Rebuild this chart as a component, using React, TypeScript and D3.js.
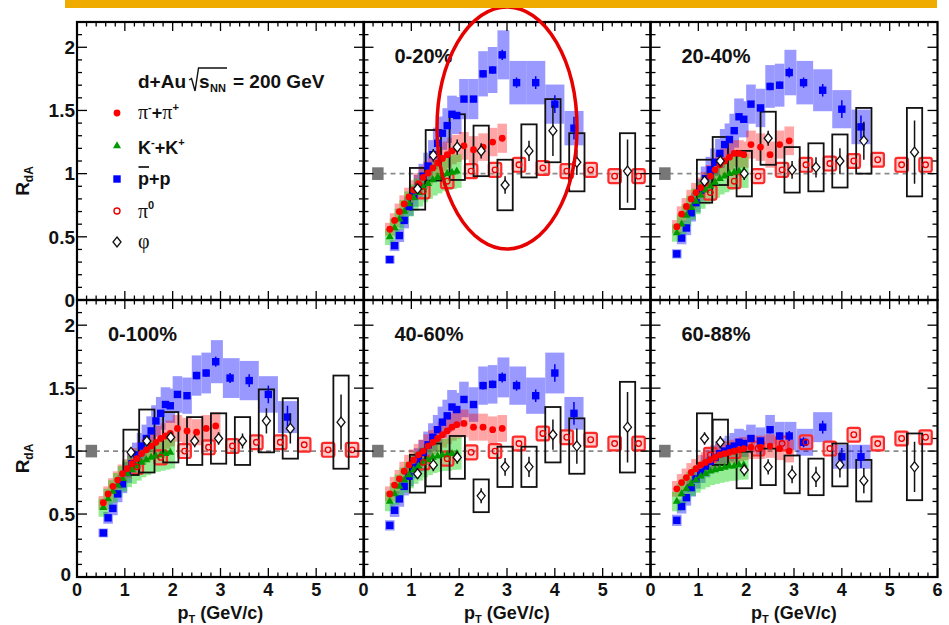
import React, { useEffect, useRef } from "react";
import * as d3 from "d3";

// pT bins (GeV/c)
const ptPion = [0.55, 0.65, 0.75, 0.85, 0.95, 1.05, 1.15, 1.25, 1.35, 1.45, 1.55, 1.65, 1.75, 1.85, 1.95, 2.1, 2.3, 2.5, 2.7, 2.9];
const ptKaon = [0.55, 0.65, 0.75, 0.85, 0.95, 1.05, 1.15, 1.25, 1.35, 1.45, 1.55, 1.65, 1.75, 1.85, 1.95];
const ptProton = [0.55, 0.65, 0.75, 0.85, 0.95, 1.05, 1.15, 1.25, 1.35, 1.45, 1.55, 1.65, 1.75, 1.85, 1.95, 2.1, 2.3, 2.5, 2.7, 2.9, 3.2, 3.6, 4.0, 4.4];
const ptPi0 = [1.25, 1.75, 2.25, 2.75, 3.25, 3.75, 4.25, 4.75, 5.25, 5.75];
const ptPhi = [1.13, 1.46, 1.96, 2.46, 2.96, 3.46, 3.96, 4.46, 5.52];

// pi- + pi+
const pion020 = [0.56, 0.63, 0.7, 0.76, 0.815, 0.87, 0.92, 0.97, 1.005, 1.045, 1.085, 1.12, 1.15, 1.18, 1.2, 1.22, 1.19, 1.21, 1.25, 1.28];
const pion2040 = [0.58, 0.68, 0.74, 0.8, 0.85, 0.89, 0.93, 0.98, 1.03, 1.07, 1.1, 1.13, 1.16, 1.16, 1.15, 1.23, 1.21, 1.15, 1.23, 1.26];
const pion0100 = [0.59, 0.66, 0.72, 0.77, 0.82, 0.86, 0.9, 0.94, 0.98, 1.01, 1.04, 1.07, 1.1, 1.12, 1.14, 1.18, 1.16, 1.15, 1.18, 1.2];
const pion4060 = [0.66, 0.73, 0.78, 0.84, 0.89, 0.93, 0.97, 1.0, 1.04, 1.07, 1.1, 1.13, 1.16, 1.19, 1.21, 1.22, 1.19, 1.19, 1.17, 1.18];
const pion6088 = [0.7, 0.75, 0.79, 0.83, 0.86, 0.89, 0.91, 0.93, 0.95, 0.97, 0.98, 0.99, 1.0, 1.01, 1.02, 1.03, 1.03, 1.04, 1.02, 1.0];

// K- + K+
const kaon020 = [0.5, 0.57, 0.64, 0.7, 0.76, 0.81, 0.85, 0.89, 0.92, 0.95, 0.97, 0.99, 1.0, 1.01, 1.02];
const kaon2040 = [0.53, 0.6, 0.67, 0.73, 0.78, 0.83, 0.87, 0.9, 0.93, 0.96, 0.98, 1.0, 1.01, 1.02, 1.02];
const kaon0100 = [0.55, 0.62, 0.68, 0.73, 0.78, 0.82, 0.85, 0.88, 0.91, 0.93, 0.95, 0.96, 0.97, 0.98, 0.99];
const kaon4060 = [0.6, 0.66, 0.72, 0.77, 0.81, 0.85, 0.88, 0.91, 0.93, 0.95, 0.96, 0.97, 0.97, 0.98, 0.98];
const kaon6088 = [0.6, 0.66, 0.7, 0.74, 0.77, 0.8, 0.82, 0.84, 0.85, 0.86, 0.87, 0.88, 0.88, 0.89, 0.89];

// pbar + p
const proton020 = [0.32, 0.43, 0.51, 0.63, 0.74, 0.82, 0.9, 0.98, 1.06, 1.15, 1.24, 1.32, 1.38, 1.47, 1.46, 1.59, 1.59, 1.79, 1.82, 1.94, 1.72, 1.72, 1.55, 1.36];
const proton2040 = [0.365, 0.49, 0.57, 0.69, 0.77, 0.87, 0.96, 1.03, 1.09, 1.16, 1.23, 1.27, 1.34, 1.45, 1.43, 1.55, 1.52, 1.69, 1.7, 1.8, 1.72, 1.66, 1.51, 1.37];
const proton0100 = [0.35, 0.47, 0.545, 0.66, 0.74, 0.83, 0.9, 0.97, 1.04, 1.1, 1.16, 1.24, 1.3, 1.37, 1.36, 1.45, 1.44, 1.6, 1.62, 1.71, 1.58, 1.56, 1.45, 1.27];
const proton4060 = [0.41, 0.53, 0.62, 0.72, 0.8, 0.87, 0.93, 0.99, 1.05, 1.11, 1.17, 1.23, 1.28, 1.35, 1.33, 1.41, 1.37, 1.52, 1.53, 1.585, 1.52, 1.44, 1.62, 1.3];
const proton6088 = [0.45, 0.56, 0.63, 0.71, 0.78, 0.83, 0.88, 0.92, 0.95, 0.98, 1.0, 1.02, 1.04, 1.07, 1.06, 1.1, 1.08, 1.17, 1.12, 1.12, 1.07, 1.19, 0.955, 0.955];
const protonStat = [0, 0, 0, 0, 0, 0, 0, 0, 0, 0, 0, 0, 0, 0, 0, 0.02, 0.02, 0.03, 0.03, 0.04, 0.04, 0.05, 0.07, 0.09];

// pi0
const pi0020 = [0.86, 0.94, 1.02, 1.03, 1.07, 1.045, 1.02, 1.03, 0.98, 0.98];
const pi02040 = [0.85, 0.94, 0.98, 1.03, 1.07, 1.08, 1.1, 1.11, 1.07, 1.07];
const pi00100 = [0.875, 0.95, 1.0, 1.03, 1.04, 1.07, 1.07, 1.05, 1.01, 1.01];
const pi04060 = [0.91, 0.94, 0.99, 1.0, 1.06, 1.14, 1.11, 1.09, 1.06, 1.06];
const pi06088 = [0.97, 1.0, 1.02, 1.06, 1.07, 1.02, 1.13, 1.06, 1.1, 1.11];

// phi: value, systematic half-height, statistical error
const phi020 = [0.88, 1.145, 1.21, 1.18, 0.91, 1.18, 1.34, 1.09, 1.02];
const phiSys020 = [0.165, 0.2, 0.26, 0.2, 0.2, 0.21, 0.25, 0.23, 0.3];
const phiStat020 = [0.04, 0.05, 0.06, 0.06, 0.07, 0.08, 0.2, 0.1, 0.25];
const phi2040 = [0.94, 1.1, 1.0, 1.28, 1.03, 1.05, 1.1, 1.26, 1.17];
const phiSys2040 = [0.17, 0.19, 0.18, 0.21, 0.18, 0.19, 0.21, 0.26, 0.35];
const phiStat2040 = [0.04, 0.05, 0.05, 0.06, 0.07, 0.08, 0.1, 0.15, 0.25];
const phi0100 = [0.99, 1.08, 1.11, 1.08, 1.1, 1.08, 1.24, 1.18, 1.23];
const phiSys0100 = [0.18, 0.25, 0.2, 0.19, 0.2, 0.19, 0.25, 0.24, 0.37];
const phiStat0100 = [0.03, 0.04, 0.04, 0.05, 0.05, 0.06, 0.1, 0.12, 0.22];
const phi4060 = [0.82, 0.89, 0.95, 0.645, 0.875, 0.875, 1.13, 1.04, 1.19];
const phiSys4060 = [0.15, 0.17, 0.17, 0.13, 0.16, 0.16, 0.22, 0.22, 0.36];
const phiStat4060 = [0.04, 0.05, 0.05, 0.06, 0.07, 0.08, 0.12, 0.14, 0.28];
const phi6088 = [1.1, 1.07, 0.85, 0.875, 0.815, 0.795, 0.89, 0.765, 0.875];
const phiSys6088 = [0.2, 0.18, 0.145, 0.145, 0.15, 0.145, 0.17, 0.165, 0.265];
const phiStat6088 = [0.05, 0.05, 0.05, 0.06, 0.07, 0.08, 0.1, 0.1, 0.2];

const centralityLabels = ["0-20%", "20-40%", "0-100%", "40-60%", "60-88%"];
const yTickLabels = [0, 0.5, 1, 1.5, 2];
const xTickLabels = [0, 1, 2, 3, 4, 5];

const W = 949;
const H = 625;
const font = "'Liberation Sans', Arial, Helvetica, sans-serif";
const serif = "'Liberation Serif', 'Times New Roman', serif";
const colX = [77, 363.5, 650.5];
const panelW = 287;
const rows = [
  { top: 22, bottom: 300 },
  { top: 300, bottom: 577 },
];

const panels = [
  { label: centralityLabels[0], col: 1, row: 0, pion: pion020, kaon: kaon020, proton: proton020, pi0: pi0020, phi: phi020, phiSys: phiSys020, phiStat: phiStat020 },
  { label: centralityLabels[1], col: 2, row: 0, pion: pion2040, kaon: kaon2040, proton: proton2040, pi0: pi02040, phi: phi2040, phiSys: phiSys2040, phiStat: phiStat2040 },
  { label: centralityLabels[2], col: 0, row: 1, pion: pion0100, kaon: kaon0100, proton: proton0100, pi0: pi00100, phi: phi0100, phiSys: phiSys0100, phiStat: phiStat0100 },
  { label: centralityLabels[3], col: 1, row: 1, pion: pion4060, kaon: kaon4060, proton: proton4060, pi0: pi04060, phi: phi4060, phiSys: phiSys4060, phiStat: phiStat4060 },
  { label: centralityLabels[4], col: 2, row: 1, pion: pion6088, kaon: kaon6088, proton: proton6088, pi0: pi06088, phi: phi6088, phiSys: phiSys6088, phiStat: phiStat6088 },
];

// half widths of a band box: half the distance to the neighbours, never less than minHalf
const halfW = (pts: number[], i: number, minHalf: number) => {
  const l = i > 0 ? (pts[i] - pts[i - 1]) / 2 : minHalf;
  const r = i < pts.length - 1 ? (pts[i + 1] - pts[i]) / 2 : l;
  return [Math.max(minHalf, l), Math.max(minHalf, r)];
};

const App = () => {
  const ref = useRef<SVGSVGElement>(null);

  useEffect(() => {
    const svg = d3.select(ref.current);
    svg.selectAll("*").remove();
    svg.append("rect").attr("width", W).attr("height", H).attr("fill", "#fff");
    const defs = svg.append("defs");

    const scales = (col: number, row: number) => {
      const x = d3.scaleLinear().domain([0, 6]).range([colX[col], colX[col] + panelW]);
      const y = d3.scaleLinear().domain([0, 2.2]).range([rows[row].bottom, rows[row].top]);
      return { x, y };
    };

    const band = (g: any, x: any, y: any, pts: number[], vals: number[], frac: number, minHalf: number, color: string, op: number) => {
      const bg = g.append("g").attr("opacity", op);
      pts.forEach((p, i) => {
        const [l, r] = halfW(pts, i, minHalf);
        const s = vals[i] * frac;
        bg.append("rect")
          .attr("x", x(p - l))
          .attr("width", x(p + r) - x(p - l))
          .attr("y", y(vals[i] + s))
          .attr("height", y(vals[i] - s) - y(vals[i] + s))
          .attr("fill", color);
      });
    };

    // data panels
    panels.forEach((pn, k) => {
      const { x, y } = scales(pn.col, pn.row);
      const clipId = "clip" + k;
      defs.append("clipPath").attr("id", clipId)
        .append("rect")
        .attr("x", x(0)).attr("y", y(2.2))
        .attr("width", x(6) - x(0)).attr("height", y(0) - y(2.2));
      const g = svg.append("g").attr("clip-path", `url(#${clipId})`);

      // unity line and normalisation box
      g.append("line")
        .attr("x1", x(0)).attr("x2", x(6)).attr("y1", y(1)).attr("y2", y(1))
        .attr("stroke", "#8a8a8a").attr("stroke-width", 1.6).attr("stroke-dasharray", "5,4");
      g.append("rect")
        .attr("x", x(0.18)).attr("width", x(0.42) - x(0.18))
        .attr("y", y(1.05)).attr("height", y(0.95) - y(1.05))
        .attr("fill", "#777");

      // systematic bands
      band(g, x, y, ptProton, pn.proton, 0.1, 0.1, "#0000ff", 0.4);
      band(g, x, y, ptPion, pn.pion, 0.09, 0.1, "#ff0000", 0.35);
      band(g, x, y, ptKaon, pn.kaon, 0.13, 0.1, "#00d200", 0.42);

      // pi0 boxes
      ptPi0.forEach((p, i) => {
        const v = pn.pi0[i];
        g.append("rect")
          .attr("x", x(p - 0.13)).attr("width", x(p + 0.13) - x(p - 0.13))
          .attr("y", y(v + 0.055)).attr("height", y(v - 0.055) - y(v + 0.055))
          .attr("rx", 2)
          .attr("fill", "rgba(255,110,110,0.35)")
          .attr("stroke", "#ff2a2a").attr("stroke-width", 2.2);
      });

      // phi boxes
      ptPhi.forEach((p, i) => {
        const v = pn.phi[i], s = pn.phiSys[i];
        g.append("rect")
          .attr("x", x(p - 0.16)).attr("width", x(p + 0.16) - x(p - 0.16))
          .attr("y", y(v + s)).attr("height", y(v - s) - y(v + s))
          .attr("fill", "none").attr("stroke", "#111").attr("stroke-width", 1.8);
      });

      // protons
      ptProton.forEach((p, i) => {
        const v = pn.proton[i], e = protonStat[i];
        if (e > 0) {
          g.append("line").attr("x1", x(p)).attr("x2", x(p)).attr("y1", y(v + e)).attr("y2", y(v - e))
            .attr("stroke", "#0000ee").attr("stroke-width", 1.5);
        }
        g.append("rect").attr("x", x(p) - 3.7).attr("y", y(v) - 3.7).attr("width", 7.4).attr("height", 7.4)
          .attr("fill", "#0000ff");
      });

      // kaons
      const tri = d3.symbol().type(d3.symbolTriangle).size(28);
      ptKaon.forEach((p, i) => {
        g.append("path").attr("d", tri()).attr("transform", `translate(${x(p)},${y(pn.kaon[i])})`)
          .attr("fill", "#009900");
      });

      // pions
      ptPion.forEach((p, i) => {
        g.append("circle").attr("cx", x(p)).attr("cy", y(pn.pion[i])).attr("r", 3.4).attr("fill", "#ff0000");
      });

      // pi0 markers
      ptPi0.forEach((p, i) => {
        g.append("circle").attr("cx", x(p)).attr("cy", y(pn.pi0[i])).attr("r", 2.8)
          .attr("fill", "none").attr("stroke", "#ee0000").attr("stroke-width", 1.3);
      });

      // phi markers
      ptPhi.forEach((p, i) => {
        const v = pn.phi[i], e = pn.phiStat[i];
        g.append("line").attr("x1", x(p)).attr("x2", x(p)).attr("y1", y(v + e)).attr("y2", y(v - e))
          .attr("stroke", "#111").attr("stroke-width", 1.5);
        const cx = x(p), cy = y(v);
        g.append("path")
          .attr("d", `M${cx},${cy - 5} L${cx + 4},${cy} L${cx},${cy + 5} L${cx - 4},${cy} Z`)
          .attr("fill", "#fff").attr("stroke", "#111").attr("stroke-width", 1.3);
      });

      // centrality label
      svg.append("text")
        .attr("x", x(0) + 31).attr("y", y(2.2) + 41)
        .attr("font-family", font).attr("font-weight", "bold").attr("font-size", 20)
        .attr("fill", "#111")
        .text(pn.label);
    });

    // frames, ticks and labels
    for (let r = 0; r < 2; r++) {
      for (let c = 0; c < 3; c++) {
        const { x, y } = scales(c, r);
        const g = svg.append("g").attr("stroke", "#000").attr("stroke-width", 1.3);
        const [xl, xr] = x.range();
        const [yb, yt] = y.range();
        for (let i = 0; i <= 30; i++) {
          const px = x(i / 5), len = i % 5 === 0 ? 9 : 4.5;
          g.append("line").attr("x1", px).attr("x2", px).attr("y1", yb).attr("y2", yb - len);
          g.append("line").attr("x1", px).attr("x2", px).attr("y1", yt).attr("y2", yt + len);
        }
        for (let i = 0; i <= 22; i++) {
          const py = y(i / 10), len = i % 5 === 0 ? 10 : 5;
          g.append("line").attr("x1", xl).attr("x2", xl + len).attr("y1", py).attr("y2", py);
          g.append("line").attr("x1", xr).attr("x2", xr - len).attr("y1", py).attr("y2", py);
        }
        g.append("rect").attr("x", xl).attr("y", yt).attr("width", xr - xl).attr("height", yb - yt)
          .attr("fill", "none").attr("stroke-width", 2.2);

        const lab = svg.append("g").attr("font-family", font).attr("font-weight", "bold")
          .attr("font-size", 19).attr("fill", "#111");
        if (c === 0) {
          yTickLabels.forEach((v) => {
            // the bottom "0" sits a little up and left, clear of the x-axis "0"
            const corner = r === 1 && v === 0;
            lab.append("text").attr("x", corner ? xl - 6 : xl - 2).attr("y", corner ? y(v) - 3 : y(v))
              .attr("dy", "0.36em").attr("text-anchor", "end").text(String(v));
          });
          const yt2 = lab.append("text")
            .attr("transform", `translate(29,${(yb + yt) / 2 + 20}) rotate(-90)`)
            .attr("text-anchor", "middle");
          yt2.append("tspan").text("R");
          yt2.append("tspan").attr("font-size", 12).attr("dy", 4).text("dA");
        }
        if (r === 1) {
          const ticks = c === 2 ? [...xTickLabels, 6] : xTickLabels;
          ticks.forEach((v) => {
            lab.append("text").attr("x", x(v)).attr("y", 596).attr("font-size", 18)
              .attr("text-anchor", "middle").text(String(v));
          });
          const xt = lab.append("text").attr("x", (xl + xr) / 2).attr("y", 619)
            .attr("font-size", 18).attr("text-anchor", "middle");
          xt.append("tspan").text("p");
          xt.append("tspan").attr("font-size", 11).attr("dy", 4).text("T");
          xt.append("tspan").attr("dy", -4).text(" (GeV/c)");
        }
      }
    }

    // legend
    const lg = svg.append("g").attr("font-family", font).attr("font-weight", "bold")
      .attr("font-size", 19).attr("fill", "#111");
    const by = 88;
    const t1 = lg.append("text").attr("x", 138).attr("y", by).text("d+Au");
    const xr0 = 138 + (t1.node() as any).getComputedTextLength() + 3;
    const ts = lg.append("text").attr("x", xr0 + 10).attr("y", by).text("s");
    const xn = xr0 + 10 + (ts.node() as any).getComputedTextLength() + 0.5;
    const tn = lg.append("text").attr("x", xn).attr("y", by + 4).attr("font-size", 11).text("NN");
    const xe = xn + (tn.node() as any).getComputedTextLength() + 1;
    lg.append("path")
      .attr("d", `M${xr0},${by - 8} L${xr0 + 2.5},${by - 9.5} L${xr0 + 6},${by + 3} L${xr0 + 9.5},${by - 20} L${xe},${by - 20}`)
      .attr("fill", "none").attr("stroke", "#111").attr("stroke-width", 1.4);
    lg.append("text").attr("x", xe + 6).attr("y", by).text("= 200 GeV");

    const mx = 117;
    // pi- + pi+
    lg.append("circle").attr("cx", mx).attr("cy", 113).attr("r", 3.4).attr("fill", "#ff0000");
    const tp = lg.append("text").attr("x", 138).attr("y", 119).attr("font-size", 18);
    tp.append("tspan").attr("font-family", serif).attr("font-weight", "normal").attr("font-size", 20).text("π");
    tp.append("tspan").attr("font-size", 11).attr("dy", -8).text("-");
    tp.append("tspan").attr("dy", 8).text("+");
    tp.append("tspan").attr("font-family", serif).attr("font-weight", "normal").attr("font-size", 20).text("π");
    tp.append("tspan").attr("font-size", 11).attr("dy", -8).text("+");
    // K- + K+
    lg.append("path").attr("d", d3.symbol().type(d3.symbolTriangle).size(28)())
      .attr("transform", `translate(${mx},146)`).attr("fill", "#009900");
    const tk = lg.append("text").attr("x", 138).attr("y", 154).attr("font-size", 18);
    tk.append("tspan").text("K");
    tk.append("tspan").attr("font-size", 11).attr("dy", -8).text("-");
    tk.append("tspan").attr("dy", 8).text("+K");
    tk.append("tspan").attr("font-size", 11).attr("dy", -8).text("+");
    // pbar + p
    lg.append("rect").attr("x", mx - 3.7).attr("y", 179 - 3.7).attr("width", 7.4).attr("height", 7.4).attr("fill", "#0000ff");
    lg.append("text").attr("x", 138).attr("y", 185).attr("font-size", 18).text("p+p");
    lg.append("line").attr("x1", 138.5).attr("x2", 149).attr("y1", 167).attr("y2", 167)
      .attr("stroke", "#111").attr("stroke-width", 1.7);
    // pi0
    lg.append("circle").attr("cx", mx).attr("cy", 211).attr("r", 3).attr("fill", "none")
      .attr("stroke", "#ee0000").attr("stroke-width", 1.4);
    const t0 = lg.append("text").attr("x", 138).attr("y", 218);
    t0.append("tspan").attr("font-family", serif).attr("font-weight", "normal").attr("font-size", 20).text("π");
    t0.append("tspan").attr("font-size", 11).attr("dy", -9).text("0");
    // phi
    lg.append("path").attr("d", `M${mx},237 L${mx + 4},242 L${mx},247 L${mx - 4},242 Z`)
      .attr("fill", "#fff").attr("stroke", "#111").attr("stroke-width", 1.3);
    lg.append("text").attr("x", 138).attr("y", 248)
      .attr("font-family", serif).attr("font-weight", "normal").attr("font-size", 20).text("φ");

    // highlight ellipse and top bar
    svg.append("ellipse").attr("cx", 507).attr("cy", 128).attr("rx", 70).attr("ry", 121)
      .attr("fill", "none").attr("stroke", "#e60000").attr("stroke-width", 3.5);
    svg.append("rect").attr("x", 65).attr("y", 0).attr("width", 872).attr("height", 8).attr("fill", "#f0ab00");
  }, []);

  return (
    <svg
      ref={ref}
      width={W}
      height={H}
      style={{ position: "absolute", left: 0, top: 0, display: "block" }}
    />
  );
};

export default App;
